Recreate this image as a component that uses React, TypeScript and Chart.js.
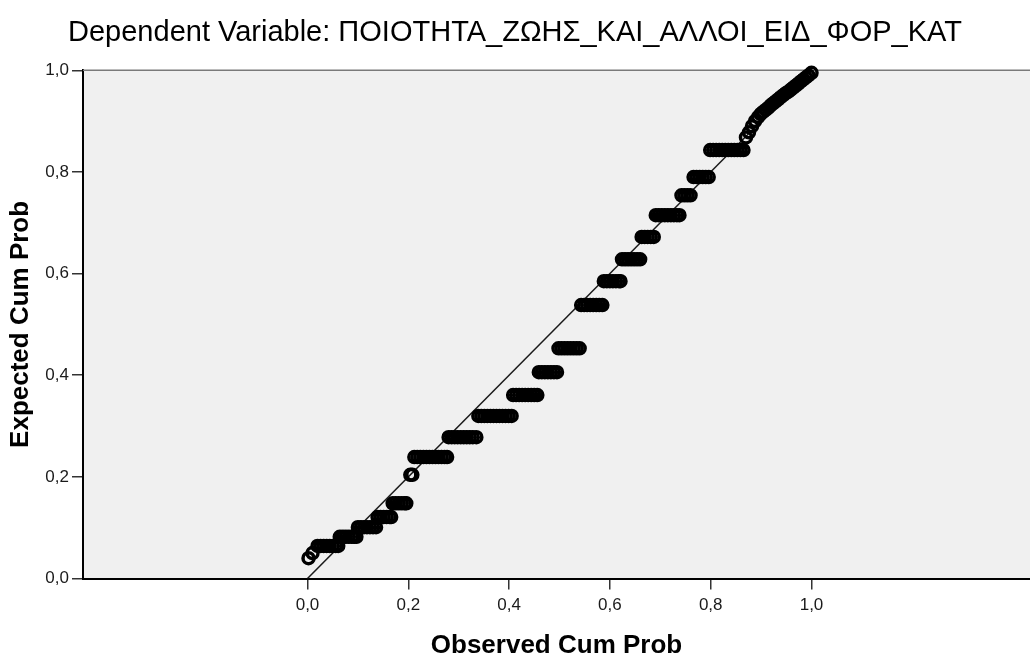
import React, { useEffect, useRef } from 'react';
import { Chart, registerables } from 'chart.js';

Chart.register(...registerables);

const TITLE = 'Dependent Variable: ΠΟΙΟΤΗΤΑ_ΖΩΗΣ_ΚΑΙ_ΑΛΛΟΙ_ΕΙΔ_ΦΟΡ_ΚΑΤ';
const X_TITLE = 'Observed Cum Prob';
const Y_TITLE = 'Expected Cum Prob';

const TICK_VALUES = [0, 0.2, 0.4, 0.6, 0.8, 1.0];
const TICK_LABELS = ['0,0', '0,2', '0,4', '0,6', '0,8', '1,0'];

const REF_LINE_X = [0, 1];
const REF_LINE_Y = [0, 1];

const observedCumProb = [
  0.002, 0.010,
  0.020, 0.026, 0.032, 0.038, 0.044, 0.050, 0.056, 0.061,
  0.064, 0.070, 0.076, 0.082, 0.088, 0.093, 0.097,
  0.100, 0.106, 0.112, 0.118, 0.124, 0.130, 0.136,
  0.139, 0.145, 0.151, 0.157, 0.163, 0.166,
  0.169, 0.175, 0.181, 0.187, 0.193, 0.196,
  0.204, 0.208,
  0.212, 0.218, 0.224, 0.230, 0.236, 0.242, 0.248, 0.254, 0.260, 0.266, 0.272, 0.277,
  0.280, 0.286, 0.292, 0.298, 0.304, 0.310, 0.316, 0.322, 0.328, 0.335,
  0.339, 0.345, 0.351, 0.357, 0.363, 0.369, 0.375, 0.381, 0.387, 0.393, 0.399, 0.405,
  0.408, 0.414, 0.420, 0.426, 0.432, 0.438, 0.444, 0.450, 0.456,
  0.459, 0.465, 0.471, 0.477, 0.483, 0.489, 0.495,
  0.498, 0.504, 0.510, 0.516, 0.522, 0.528, 0.534, 0.540,
  0.543, 0.549, 0.555, 0.561, 0.567, 0.573, 0.579, 0.585,
  0.588, 0.594, 0.600, 0.606, 0.612, 0.618, 0.621,
  0.624, 0.630, 0.636, 0.642, 0.648, 0.654, 0.660,
  0.663, 0.669, 0.675, 0.681, 0.687,
  0.691, 0.697, 0.703, 0.709, 0.715, 0.721, 0.727, 0.733, 0.738,
  0.742, 0.748, 0.754, 0.760,
  0.766, 0.772, 0.778, 0.784, 0.790, 0.796,
  0.799, 0.805, 0.811, 0.817, 0.823, 0.829, 0.835, 0.841, 0.847, 0.853, 0.859, 0.865,
  0.870, 0.876, 0.882, 0.888, 0.894, 0.899, 0.904, 0.909, 0.914, 0.919, 0.924, 0.929, 0.934,
  0.939, 0.944, 0.949, 0.954, 0.959, 0.964, 0.969, 0.974, 0.979, 0.984, 0.989, 0.994, 1.000,
];

const expectedCumProb = [
  0.040, 0.050,
  0.064, 0.064, 0.064, 0.064, 0.064, 0.064, 0.064, 0.064,
  0.082, 0.082, 0.082, 0.082, 0.082, 0.082, 0.082,
  0.101, 0.101, 0.101, 0.101, 0.101, 0.101, 0.101,
  0.121, 0.121, 0.121, 0.121, 0.121, 0.121,
  0.148, 0.148, 0.148, 0.148, 0.148, 0.148,
  0.204, 0.204,
  0.239, 0.239, 0.239, 0.239, 0.239, 0.239, 0.239, 0.239, 0.239, 0.239, 0.239, 0.239,
  0.278, 0.278, 0.278, 0.278, 0.278, 0.278, 0.278, 0.278, 0.278, 0.278,
  0.320, 0.320, 0.320, 0.320, 0.320, 0.320, 0.320, 0.320, 0.320, 0.320, 0.320, 0.320,
  0.361, 0.361, 0.361, 0.361, 0.361, 0.361, 0.361, 0.361, 0.361,
  0.406, 0.406, 0.406, 0.406, 0.406, 0.406, 0.406,
  0.453, 0.453, 0.453, 0.453, 0.453, 0.453, 0.453, 0.453,
  0.538, 0.538, 0.538, 0.538, 0.538, 0.538, 0.538, 0.538,
  0.585, 0.585, 0.585, 0.585, 0.585, 0.585, 0.585,
  0.628, 0.628, 0.628, 0.628, 0.628, 0.628, 0.628,
  0.672, 0.672, 0.672, 0.672, 0.672,
  0.715, 0.715, 0.715, 0.715, 0.715, 0.715, 0.715, 0.715, 0.715,
  0.754, 0.754, 0.754, 0.754,
  0.790, 0.790, 0.790, 0.790, 0.790, 0.790,
  0.843, 0.843, 0.843, 0.843, 0.843, 0.843, 0.843, 0.843, 0.843, 0.843, 0.843, 0.843,
  0.868, 0.878, 0.890, 0.900, 0.908, 0.914, 0.918, 0.922, 0.926, 0.931, 0.935, 0.939, 0.943,
  0.947, 0.951, 0.955, 0.958, 0.962, 0.966, 0.970, 0.974, 0.978, 0.982, 0.986, 0.990, 0.995,
];

const FONT = "'Liberation Sans', Arial, sans-serif";

const plotFrame = {
  id: 'plotFrame',
  beforeDraw(chart: any) {
    const { ctx, chartArea: a } = chart;
    ctx.save();
    ctx.fillStyle = '#ffffff';
    ctx.fillRect(0, 0, chart.width, chart.height);
    ctx.fillStyle = '#f0f0f0';
    ctx.fillRect(a.left, a.top, a.right - a.left, a.bottom - a.top);
    ctx.restore();
  },
  beforeDatasetsDraw(chart: any) {
    const { ctx, chartArea: a } = chart;
    ctx.save();
    ctx.strokeStyle = '#7a7a7a';
    ctx.lineWidth = 1.5;
    ctx.beginPath();
    ctx.moveTo(a.left, a.top);
    ctx.lineTo(a.right, a.top);
    ctx.stroke();
    ctx.restore();
  },
};

export default function App() {
  const ref = useRef<HTMLCanvasElement>(null);

  useEffect(() => {
    if (!ref.current) return;
    const points = observedCumProb.map((x, i) => ({ x, y: expectedCumProb[i] }));
    const refLine = REF_LINE_X.map((x, i) => ({ x, y: REF_LINE_Y[i] }));
    const setTicks = (s: any) => {
      s.ticks = TICK_VALUES.map((v) => ({ value: v }));
    };
    const label = (v: any, i: number) => TICK_LABELS[i];

    const chart = new Chart(ref.current, {
      type: 'scatter',
      data: {
        datasets: [
          {
            type: 'line',
            data: refLine,
            borderColor: '#1a1a1a',
            borderWidth: 1.5,
            pointRadius: 0,
            fill: false,
            order: 2,
          } as any,
          {
            type: 'scatter',
            data: points,
            borderColor: '#000000',
            backgroundColor: 'rgba(0,0,0,0)',
            pointRadius: 5.5,
            pointBorderWidth: 3.5,
            pointHoverRadius: 5.5,
            order: 1,
            clip: 10,
          } as any,
        ],
      },
      options: {
        responsive: false,
        animation: false,
        events: [],
        layout: { padding: 0, autoPadding: false },
        plugins: {
          legend: { display: false },
          tooltip: { enabled: false },
          title: {
            display: true,
            text: TITLE,
            color: '#000',
            font: { family: FONT, size: 29, weight: 'normal' },
            padding: { top: 16, bottom: 19.5 },
          },
        },
        scales: {
          x: {
            type: 'linear',
            min: -0.4454,
            max: 1.4335,
            afterBuildTicks: setTicks,
            afterFit: (s: any) => {
              s.height = 80.5;
            },
            ticks: {
              callback: label,
              color: '#1a1a1a',
              font: { family: FONT, size: 17 },
              padding: 6,
              maxRotation: 0,
              autoSkip: false,
            },
            grid: {
              drawOnChartArea: false,
              drawTicks: true,
              tickLength: 11,
              color: '#333',
              lineWidth: 1.5,
            },
            border: { display: true, color: '#000', width: 2 },
            title: {
              display: true,
              text: X_TITLE,
              color: '#000',
              font: { family: FONT, size: 26, weight: 'bold', lineHeight: 1 },
              padding: { top: 0, bottom: 0 },
            },
          },
          y: {
            type: 'linear',
            min: 0,
            max: 1,
            afterBuildTicks: setTicks,
            afterFit: (s: any) => {
              s.width = 83;
            },
            ticks: {
              callback: label,
              color: '#1a1a1a',
              font: { family: FONT, size: 17 },
              padding: 3,
              autoSkip: false,
            },
            grid: {
              drawOnChartArea: false,
              drawTicks: true,
              tickLength: 11,
              color: '#333',
              lineWidth: 1.5,
            },
            border: { display: true, color: '#000', width: 2 },
            title: {
              display: true,
              text: Y_TITLE,
              color: '#000',
              font: { family: FONT, size: 26, weight: 'bold' },
              padding: { top: 5, bottom: 0 },
            },
          },
        },
      },
      plugins: [plotFrame],
    } as any);

    return () => chart.destroy();
  }, []);

  return (
    <div style={{ position: 'absolute', left: 0, top: 0, width: 1030, height: 659 }}>
      <canvas ref={ref} width={1030} height={659} style={{ display: 'block', width: 1030, height: 659 }} />
    </div>
  );
}
